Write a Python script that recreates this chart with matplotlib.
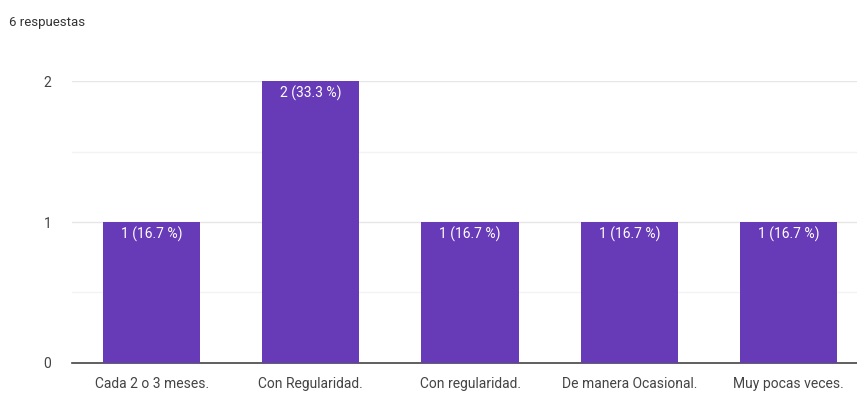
import numpy as np
import matplotlib.pyplot as plt

categories = ["Cada 2 o 3 meses.", "Con Regularidad.", "Con regularidad.",
              "De manera Ocasional.", "Muy pocas veces."]
counts = [1, 2, 1, 1, 1]
total = 6
bar_labels = [f"{c} ({c / total * 100:.1f} %)" for c in counts]

plt.rcParams['font.family'] = ['Roboto', 'DejaVu Sans']

fig = plt.figure(figsize=(8.57, 3.94), dpi=100)
# plot area runs a bit past the right edge, as in the screenshot
ax = fig.add_axes([0.084, 0.079, 0.929, 0.715])

x = np.arange(len(categories))
bars = ax.bar(x, counts, width=0.61, color="#673ab7", zorder=3)
for b, lab in zip(bars, bar_labels):
    ax.text(b.get_x() + b.get_width() / 2, b.get_height() - 0.035, lab,
            ha="center", va="top", color="white", fontsize=10, zorder=4)

ax.set_xlim(-0.5, 4.5)
ax.set_ylim(0, 2)
ax.set_yticks([0, 1, 2])
ax.set_yticks([0.5, 1.5], minor=True)
ax.set_xticks(x)
ax.set_xticklabels(categories)
ax.grid(axis="y", which="major", color="#e6e6e6", linewidth=1, zorder=0)
ax.grid(axis="y", which="minor", color="#f3f3f3", linewidth=1, zorder=0)
ax.tick_params(axis="both", which="both", length=0, labelsize=10, colors="#444444")
ax.tick_params(axis="x", pad=10)
ax.tick_params(axis="y", pad=15)
for s in ["top", "right", "left"]:
    ax.spines[s].set_visible(False)
ax.spines["bottom"].set_color("#444444")
ax.spines["bottom"].set_linewidth(1.2)

fig.text(0.0105, 0.935, "6 respuestas", fontsize=9.5, color="#333333")

fig.savefig("out.png", dpi=100)
